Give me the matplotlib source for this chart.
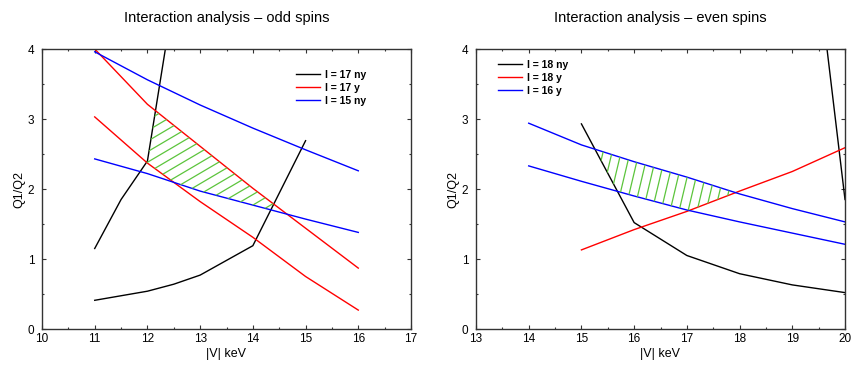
import numpy as np
import matplotlib
matplotlib.use("Agg")
import matplotlib.pyplot as plt
from matplotlib.patches import Polygon
from matplotlib.ticker import MultipleLocator

plt.rcParams['font.family'] = ['Liberation Sans', 'DejaVu Sans']

# ---------------- data: odd spins ----------------
odd_ny_a_x = [11, 11.5, 12, 12.5]
odd_ny_a_y = [1.15, 1.85, 2.40, 4.75]
odd_ny_b_x = [11, 12, 12.5, 13, 14, 15]
odd_ny_b_y = [0.41, 0.54, 0.64, 0.77, 1.19, 2.69]
odd_x = [11, 12, 13, 14, 15, 16]
odd_y_a = [4.00, 3.21, 2.61, 2.01, 1.44, 0.87]
odd_y_b = [3.03, 2.37, 1.82, 1.31, 0.75, 0.27]
odd_15_a = [3.96, 3.56, 3.20, 2.87, 2.56, 2.26]
odd_15_b = [2.43, 2.22, 1.97, 1.77, 1.57, 1.38]

# ---------------- data: even spins ----------------
even_ny_a_x = [15, 16, 17, 18, 19, 20]
even_ny_a_y = [2.93, 1.52, 1.05, 0.79, 0.63, 0.52]
even_ny_b_x = [19.5, 20]
even_ny_b_y = [5.0, 1.85]
even_y_x = [15, 16, 17, 18, 19, 20]
even_y = [1.13, 1.42, 1.68, 1.97, 2.25, 2.59]
even_16_x = [14, 15, 16, 17, 18, 19, 20]
even_16_a = [2.94, 2.63, 2.39, 2.17, 1.93, 1.72, 1.53]
even_16_b = [2.33, 2.11, 1.90, 1.70, 1.53, 1.37, 1.21]

titles = ["Interaction analysis \u2013 odd spins", "Interaction analysis \u2013 even spins"]
labels_odd = ["I = 17 ny", "I = 17 y", "I = 15 ny"]
labels_even = ["I = 18 ny", "I = 18 y", "I = 16 y"]

BLACK, RED, BLUE, GREEN = "#000000", "#ff0000", "#0000ff", "#5cc43c"
LW = 1.0

fig = plt.figure(figsize=(8.52, 3.65), dpi=100)
axL = fig.add_axes([42/852, 36/365, 369/852, 280/365])
axR = fig.add_axes([476/852, 36/365, 369/852, 280/365])


def style(ax, xlim, title):
    ax.set_xlim(*xlim)
    ax.set_ylim(0, 4)
    ax.xaxis.set_major_locator(MultipleLocator(1))
    ax.xaxis.set_minor_locator(MultipleLocator(0.5))
    ax.yaxis.set_major_locator(MultipleLocator(1))
    ax.yaxis.set_minor_locator(MultipleLocator(0.5))
    ax.tick_params(which='both', direction='in', top=True, right=True,
                   color='#333333', width=0.8)
    ax.tick_params(which='major', length=3.0, labelsize=8.5)
    ax.tick_params(which='minor', length=1.6)
    ax.tick_params(axis='x', pad=3)
    ax.tick_params(axis='y', pad=5.5)
    for s in ax.spines.values():
        s.set_color('#333333')
        s.set_linewidth(1.0)
    ax.set_xlabel("|V| keV", fontsize=9)
    ax.set_ylabel("Q1/Q2", fontsize=9)
    ax.xaxis.set_label_coords(0.5, -0.068)
    ax.yaxis.set_label_coords(-0.046, 0.5)
    ax.set_title(title, fontsize=10.5, pad=19.5)


def region(ax, xs, top, bot):
    ok = top > bot
    xv = xs[ok]
    verts = np.concatenate([np.column_stack([xv, bot[ok]]),
                            np.column_stack([xv[::-1], top[ok][::-1]])])
    poly = Polygon(verts, closed=True, facecolor='none', edgecolor='none')
    ax.add_patch(poly)
    return poly


LEG = dict(loc='upper left', frameon=False, borderpad=0, borderaxespad=0,
           handlelength=2.3, handletextpad=0.5, labelspacing=0.28,
           prop={'weight': 'bold', 'size': 7.5})

# ---------------- left panel ----------------
ax = axL
ax.plot(odd_ny_a_x, odd_ny_a_y, color=BLACK, lw=LW, label=labels_odd[0])
ax.plot(odd_ny_b_x, odd_ny_b_y, color=BLACK, lw=LW)
ax.plot(odd_x, odd_y_a, color=RED, lw=LW, label=labels_odd[1])
ax.plot(odd_x, odd_y_b, color=RED, lw=LW)
ax.plot(odd_x, odd_15_a, color=BLUE, lw=LW, label=labels_odd[2])
ax.plot(odd_x, odd_15_b, color=BLUE, lw=LW)

xs = np.linspace(11, 16, 3000)
top = np.minimum(np.interp(xs, odd_x, odd_y_a),
                 np.interp(xs, odd_ny_a_x, odd_ny_a_y, right=np.inf))
bot = np.maximum.reduce([np.interp(xs, odd_x, odd_y_b),
                         np.interp(xs, odd_x, odd_15_b),
                         np.interp(xs, odd_ny_b_x, odd_ny_b_y, left=-np.inf)])
poly = region(ax, xs, top, bot)
# hatch lines: y = s*x + c (data coordinates), s from pixel angle
s = 0.59 * (369 / 7) / (280 / 4)
hx = np.array([10, 17])
for c in np.arange(-10, 10, 10.5 / 70):
    ln, = ax.plot(hx, s * hx + c, color=GREEN, lw=0.9)
    ln.set_clip_path(poly)

style(ax, (10, 17), titles[0])
ax.legend(bbox_to_anchor=((296 - 42) / 369, (329 - 70) / 280), **LEG)

# ---------------- right panel ----------------
ax = axR
ax.plot(even_ny_a_x, even_ny_a_y, color=BLACK, lw=LW, label=labels_even[0])
ax.plot(even_ny_b_x, even_ny_b_y, color=BLACK, lw=LW)
ax.plot(even_y_x, even_y, color=RED, lw=LW, label=labels_even[1])
ax.plot(even_16_x, even_16_a, color=BLUE, lw=LW, label=labels_even[2])
ax.plot(even_16_x, even_16_b, color=BLUE, lw=LW)

xs = np.linspace(15, 20, 3000)
top = np.minimum(np.interp(xs, even_16_x, even_16_a),
                 np.interp(xs, even_ny_b_x, even_ny_b_y, left=np.inf))
bot = np.maximum.reduce([np.interp(xs, even_16_x, even_16_b),
                         np.interp(xs, even_y_x, even_y),
                         np.interp(xs, even_ny_a_x, even_ny_a_y)])
poly = region(ax, xs, top, bot)
s = 4.2 * (369 / 7) / (280 / 4)
hy = np.array([-1, 5])
for c in np.arange(12, 22, 9 / (369 / 7)):
    ln, = ax.plot(c + (hy - 2) / s, hy, color=GREEN, lw=0.9)
    ln.set_clip_path(poly)

style(ax, (13, 20), titles[1])
ax.legend(bbox_to_anchor=((498 - 476) / 369, (329 - 60) / 280), **LEG)

fig.savefig("out.png", dpi=100)
